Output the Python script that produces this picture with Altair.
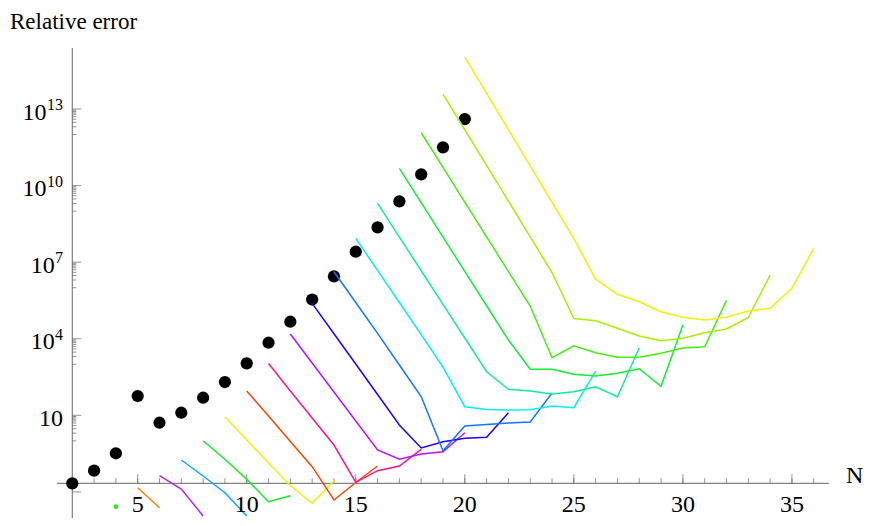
import altair as alt
import pandas as pd

# ---------------- data (log10 of relative error) ----------------
dot_N = list(range(2, 21))
dot_log_err = [-1.664, -1.170, -0.488, 1.756, 0.710, 1.102, 1.689, 2.304, 3.037, 3.844,
               4.666, 5.536, 6.445, 7.408, 8.364, 9.382, 10.440, 11.497, 12.606]

# series m starts at N = m and runs to N = 2m - 4
log_err_m4 = [-2.58]
log_err_m5 = [-1.836, -2.619]
log_err_m6 = [-1.366, -1.887, -2.944]
log_err_m7 = [-0.751, -1.378, -2.032, -2.944]
log_err_m8 = [0.005, -0.723, -1.507, -2.384, -2.149]
log_err_m9 = [0.945, 0.033, -0.868, -1.750, -2.447, -1.573]
log_err_m10 = [1.952, 0.973, -0.026, -1.013, -2.318, -1.632, -0.986]
log_err_m11 = [3.029, 1.952, 0.894, -0.163, -1.624, -1.170, -0.986, -0.332]
log_err_m12 = [4.184, 3.049, 1.913, 0.777, -0.359, -0.723, -0.516, -0.426, 0.318]
log_err_m13 = [5.387, 4.196, 3.009, 1.815, 0.620, -0.281, -0.034, 0.099, 0.138, 1.102]
log_err_m14 = [6.625, 5.418, 4.212, 2.970, 1.736, -0.390, 0.581, 0.640, 0.698, 0.738, 1.873]
log_err_m15 = [7.933, 6.676, 5.418, 4.161, 2.892, 1.337, 1.227, 1.208, 1.219, 1.364, 1.298, 2.735]
log_err_m16 = [9.304, 7.984, 6.664, 5.344, 4.028, 2.708, 2.018, 1.952, 1.834, 1.924, 2.120,
               1.729, 3.648]
log_err_m17 = [10.675, 9.331, 7.984, 6.640, 5.293, 3.949, 2.802, 2.802, 2.606, 2.539, 2.645,
               2.825, 2.136, 4.537]
log_err_m18 = [12.069, 10.710, 9.351, 7.992, 6.633, 5.281, 3.256, 3.726, 3.452, 3.272, 3.272,
               3.429, 3.636, 3.687, 5.504]
log_err_m19 = [13.585, 12.187, 10.788, 9.390, 7.992, 6.593, 4.792, 4.705, 4.408, 4.106, 3.922,
               4.016, 4.235, 4.380, 4.831, 6.495]
log_err_m20 = [15.034, 13.612, 12.190, 10.769, 9.347, 7.925, 6.331, 5.743, 5.450, 5.058, 4.839,
               4.733, 4.839, 5.085, 5.191, 5.975, 7.541]

series_m = list(range(4, 21))
series_colors = ["#22ee22", "#ff8000", "#bb22ee", "#00aaff", "#11ee22", "#f2f200", "#ff4400",
                 "#ff1493", "#bb11ff", "#2200ff", "#1177ff", "#00eeff", "#11ee99", "#11ee33",
                 "#44ee11", "#aaee00", "#f5f000"]

x_major_ticks = [5, 10, 15, 20, 25, 30, 35]
x_minor_ticks = list(range(2, 37))
y_major_exponents = [-2, 1, 4, 7, 10, 13]
y_label_exponents = [1, 4, 7, 10, 13]
y_minor_multipliers = [1, 2, 3, 4, 5, 6, 7, 8, 9]

# ---------------- tables ----------------
all_series = [log_err_m4, log_err_m5, log_err_m6, log_err_m7, log_err_m8, log_err_m9,
              log_err_m10, log_err_m11, log_err_m12, log_err_m13, log_err_m14, log_err_m15,
              log_err_m16, log_err_m17, log_err_m18, log_err_m19, log_err_m20]
rows = []
for m, vals in zip(series_m, all_series):
    for i, v in enumerate(vals):
        rows.append({"m": m, "N": m + i, "err": 10 ** v})
lines_df = pd.DataFrame(rows)
dots_df = pd.DataFrame({"N": dot_N, "err": [10 ** v for v in dot_log_err]})

axis_origin = 10 ** dot_log_err[0]

W, H = 772, 470
xscale = alt.Scale(domain=[1.3, 36.7], nice=False, zero=False)
yscale = alt.Scale(type="log", domain=[10 ** -3.023, 10 ** 15.39], nice=False)
FONT = "Liberation Serif"
GRAY = "#666666"

dummy = pd.DataFrame({"a": [0]})

dots = alt.Chart(dots_df).mark_circle(size=150, color="black", opacity=1).encode(
    x=alt.X("N:Q", scale=xscale, axis=None),
    y=alt.Y("err:Q", scale=yscale, axis=None),
)

lines = alt.Chart(lines_df).mark_line(strokeWidth=1.5).encode(
    x=alt.X("N:Q", scale=xscale, axis=None),
    y=alt.Y("err:Q", scale=yscale, axis=None),
    color=alt.Color("m:N", scale=alt.Scale(domain=series_m, range=series_colors), legend=None),
)

single = alt.Chart(lines_df).transform_filter("datum.m == 4").mark_circle(
    size=22, opacity=1).encode(
    x=alt.X("N:Q", scale=xscale, axis=None),
    y=alt.Y("err:Q", scale=yscale, axis=None),
    color=alt.Color("m:N", scale=alt.Scale(domain=series_m, range=series_colors), legend=None),
)

y_axis_line = alt.Chart(dummy).mark_rule(color=GRAY, strokeWidth=1).encode(
    x=alt.X(datum=2, scale=xscale, axis=None), y=alt.value(0), y2=alt.value(H))
x_axis_line = alt.Chart(dummy).mark_rule(color=GRAY, strokeWidth=1).encode(
    y=alt.Y(datum=axis_origin, scale=yscale, axis=None), x=alt.value(0), x2=alt.value(W))

x_minor = alt.Chart(pd.DataFrame({"N": x_minor_ticks})).mark_tick(
    orient="vertical", size=5, thickness=1, yOffset=-2.5, color=GRAY).encode(
    x=alt.X("N:Q", scale=xscale, axis=None),
    y=alt.Y(datum=axis_origin, scale=yscale, axis=None))
x_major = alt.Chart(pd.DataFrame({"N": x_major_ticks})).mark_tick(
    orient="vertical", size=9, thickness=1, yOffset=-4.5, color=GRAY).encode(
    x=alt.X("N:Q", scale=xscale, axis=None),
    y=alt.Y(datum=axis_origin, scale=yscale, axis=None))
x_labels = alt.Chart(pd.DataFrame({"N": x_major_ticks})).mark_text(
    font=FONT, fontSize=24, dy=29, baseline="alphabetic", align="center", color="black").encode(
    x=alt.X("N:Q", scale=xscale, axis=None),
    y=alt.Y(datum=axis_origin, scale=yscale, axis=None),
    text="N:Q")

minor_vals = [k * 10 ** (e - 1) for e in y_label_exponents for k in y_minor_multipliers]
y_minor = alt.Chart(pd.DataFrame({"v": minor_vals})).mark_tick(
    orient="horizontal", size=4, thickness=1, xOffset=2, color=GRAY).encode(
    x=alt.X(datum=2, scale=xscale, axis=None),
    y=alt.Y("v:Q", scale=yscale, axis=None))
y_major = alt.Chart(pd.DataFrame({"v": [10.0 ** e for e in y_major_exponents]})).mark_tick(
    orient="horizontal", size=9, thickness=1, xOffset=4.5, color=GRAY).encode(
    x=alt.X(datum=2, scale=xscale, axis=None),
    y=alt.Y("v:Q", scale=yscale, axis=None))

lab_df = pd.DataFrame({"e": y_label_exponents,
                       "v": [10.0 ** e for e in y_label_exponents],
                       "sup": ["" if e == 1 else str(e) for e in y_label_exponents]})
y_base = alt.Chart(lab_df).transform_calculate(
    px="6 - 8.2 * length(datum.sup)").mark_text(
    font=FONT, fontSize=24, dy=10.5, baseline="alphabetic", align="right", color="black").encode(
    x=alt.X("px:Q", scale=None),
    y=alt.Y("v:Q", scale=yscale, axis=None),
    text=alt.value("10"))
y_sup = alt.Chart(lab_df).transform_filter("datum.sup != ''").mark_text(
    font=FONT, fontSize=16, dy=1, baseline="alphabetic", align="right", color="black").encode(
    x=alt.value(6),
    y=alt.Y("v:Q", scale=yscale, axis=None),
    text="sup:N")

title = alt.Chart(dummy).mark_text(
    font=FONT, fontSize=23, align="left", baseline="alphabetic", color="black",
    text="Relative error").encode(x=alt.value(-47), y=alt.value(-19))
n_label = alt.Chart(dummy).mark_text(
    font=FONT, fontSize=24, align="left", baseline="alphabetic", color="black",
    text="N").encode(x=alt.value(789), y=alt.Y(datum=axis_origin, scale=yscale, axis=None))

chart = alt.layer(
    y_axis_line, x_axis_line, x_minor, x_major, y_minor, y_major,
    dots, lines, single, x_labels, y_base, y_sup, title, n_label
).properties(
    width=W, height=H,
    padding={"left": 49, "top": 40, "right": 35, "bottom": 0},
    autosize=alt.AutoSizeParams(type="none"),
    background="white",
).configure_view(strokeWidth=0)

chart.save("out.html", embed_options={"renderer": "svg", "actions": False})
